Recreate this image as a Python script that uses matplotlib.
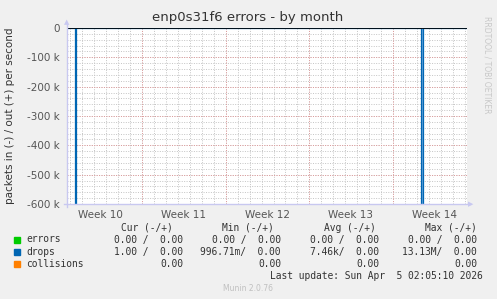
import matplotlib
matplotlib.use("Agg")
import matplotlib.pyplot as plt
import numpy as np

# x axis in days from the left edge of the graph
x_span = 33.47
week_starts = [6.28, 13.27, 20.22, 27.25]     # Monday boundaries (major grid)
week_labels = ["Week 10", "Week 11", "Week 12", "Week 13", "Week 14"]
week_centers = [2.78, 9.77, 16.75, 23.73, 30.75]

# drops in (packets/s), sparse samples, step series
drops_days = [0.0, 0.66, 0.78, 29.58, 29.76, x_span]
drops_in = [0, 13.13e6, 0, 13.13e6, 0, 0]

y_ticks = [0, -100e3, -200e3, -300e3, -400e3, -500e3, -600e3]
y_tick_labels = ["0", "-100 k", "-200 k", "-300 k", "-400 k", "-500 k", "-600 k"]

legend_names = ["errors", "drops", "collisions"]
legend_colors = ["#00cc00", "#0066b3", "#ff8000"]
cur_vals = ["0.00 /  0.00", "1.00 /  0.00", "0.00"]
min_vals = ["0.00 /  0.00", "996.71m/  0.00", "0.00"]
avg_vals = ["0.00 /  0.00", "7.46k/  0.00", "0.00"]
max_vals = ["0.00 /  0.00", "13.13M/  0.00", "0.00"]

W, H = 497, 299
fig = plt.figure(figsize=(W / 100, H / 100), dpi=100)
fig.patch.set_facecolor("#f0f0f0")

L, R, T, B = 67, 467, 28, 204
ax = fig.add_axes([L / W, 1 - B / H, (R - L) / W, (B - T) / H])
ax.set_facecolor("#ffffff")
ax.set_xlim(0, x_span)
ax.set_ylim(-600e3, 0)

# grid
dots = (0, (1, 1.5))
for d in np.arange(week_starts[0] - 6, x_span, 1.0):
    ax.axvline(d, color="#c4c4c4", lw=0.7, ls=dots, zorder=1)
for v in np.arange(-580e3, 0, 20e3):
    ax.axhline(v, color="#c4c4c4", lw=0.7, ls=dots, zorder=1)
for d in week_starts:
    ax.axvline(d, color="#e09a9a", lw=0.7, ls=dots, zorder=1.5)
for v in y_ticks[1:-1]:
    ax.axhline(v, color="#e09a9a", lw=0.7, ls=dots, zorder=1.5)

neg = [-v for v in drops_in]
ax.fill_between(drops_days, neg, 0, step="post", color="#6aa6dc", lw=0, zorder=2)
ax.plot(drops_days, neg, drawstyle="steps-post", color="#0066b3", lw=0.9, zorder=3)
ax.axhline(0, color="#000000", lw=1.2, zorder=4)

for s in ax.spines.values():
    s.set_visible(False)
ax.set_xticks(week_centers)
ax.set_xticklabels(week_labels)
ax.set_yticks(y_ticks)
ax.set_yticklabels(y_tick_labels)
ax.tick_params(axis="both", length=0, labelsize=7.5, colors="#555555", pad=5)
ax.tick_params(axis="x", pad=4)

# axis lines with arrows
ax_col = "#c8c8f0"
fig.add_artist(plt.Line2D([L / W, L / W], [1 - (B + 3) / H, 1 - (T - 4) / H], color=ax_col, lw=1))
fig.add_artist(plt.Line2D([(L - 3) / W, (R + 3) / W], [1 - B / H, 1 - B / H], color=ax_col, lw=1))
fig.text(L / W, 1 - (T - 6) / H, "\u25B2", color=ax_col, fontsize=5, ha="center", va="center")
fig.text((R + 4) / W, 1 - B / H, "\u25B6", color=ax_col, fontsize=5, ha="center", va="center")

fig.text(248 / W, 1 - 18 / H, "enp0s31f6 errors - by month", ha="center", va="center",
         fontsize=9.5, color="#333333")
fig.text(10 / W, 1 - 116 / H, "packets in (-) / out (+) per second", rotation=90,
         ha="center", va="center", fontsize=7.5, color="#333333")
fig.text(487 / W, 1 - 65 / H, "RRDTOOL / TOBI OETIKER", rotation=270, ha="center",
         va="center", fontsize=5.5, color="#c8c8c8")

mono = "DejaVu Sans Mono"
fs = 6.9
txt = "#333333"
head_y = 228
for label, xr in [("Cur (-/+)", 173), ("Min (-/+)", 274), ("Avg (-/+)", 376), ("Max (-/+)", 477)]:
    fig.text(xr / W, 1 - head_y / H, label, family=mono, fontsize=fs, color=txt, ha="right", va="center")

rows_y = [239.5, 251.7, 263.7]
for i, name in enumerate(legend_names):
    y = rows_y[i]
    fig.patches.append(plt.Rectangle((14 / W, 1 - (y + 3) / H), 6 / W, 6 / H,
                                     transform=fig.transFigure, color=legend_colors[i]))
    fig.text(26 / W, 1 - y / H, name, family=mono, fontsize=fs, color=txt, ha="left", va="center")
    for vals, xr in [(cur_vals, 183), (min_vals, 281), (avg_vals, 379), (max_vals, 477)]:
        fig.text(xr / W, 1 - y / H, vals[i], family=mono, fontsize=fs, color=txt, ha="right", va="center")

fig.text(483 / W, 1 - 275.7 / H, "Last update: Sun Apr  5 02:05:10 2026", family=mono,
         fontsize=fs, color=txt, ha="right", va="center")
fig.text(248 / W, 1 - 288.3 / H, "Munin 2.0.76", fontsize=5.5, color="#c0c0c0",
         ha="center", va="center")

fig.savefig("out.png", dpi=100, facecolor=fig.get_facecolor())
